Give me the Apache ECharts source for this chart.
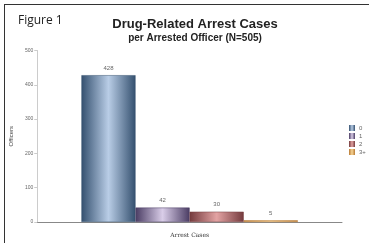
<!DOCTYPE html>
<html>
<head>
<meta charset="utf-8">
<script src="https://cdn.jsdelivr.net/npm/echarts@6/dist/echarts.min.js"></script>
<style>
  html, body { margin: 0; padding: 0; background: #fff; }
  #frame { position: absolute; left: 4px; top: 4px; width: 380px; height: 260px; border-left: 1.5px solid #333; border-top: 1.5px solid #333; }
  #chart { position: absolute; left: 0; top: 0; width: 369px; height: 243px; }
</style>
</head>
<body>
<div id="frame"></div>
<div id="chart"></div>
<script>
// 数据
const categories = ['Arrest Cases'];
const seriesNames = ['0', '1', '2', '3+'];
const officerCounts = [428, 42, 30, 5];
const yTicks = [0, 100, 200, 300, 400, 500];

// 每个系列的渐变色 [边缘, 中间]
const barColors = [
    ['#34506f', '#b9cde6'],
    ['#4a3c63', '#d9cde8'],
    ['#743a3d', '#e3a3a3'],
    ['#b87a34', '#f7d595'],
];

const grad = (c) => new echarts.graphic.LinearGradient(0, 0, 1, 0, [
    {offset: 0, color: c[0]},
    {offset: 0.5, color: c[1]},
    {offset: 1, color: c[0]},
]);

let chart = echarts.init(document.getElementById('chart'));
let option = {
    animation: false,
    title: [
        {text: 'Figure 1', left: 13, top: 10, textStyle: {fontFamily: 'Open Sans', fontSize: 12, fontWeight: 'normal', color: '#222'}},
        {text: 'Drug-Related Arrest Cases', left: 190, top: 13, textAlign: 'center',
         textStyle: {fontFamily: 'Liberation Sans', fontSize: 13, fontWeight: 'bold', color: '#222'}},
        {text: 'per Arrested Officer (N=505)', left: 190, top: 28, textAlign: 'center',
         textStyle: {fontFamily: 'Liberation Sans', fontSize: 10, fontWeight: 'bold', color: '#222'}},
    ],
    legend: {
        orient: 'vertical',
        left: 344, top: 120,
        icon: 'rect',
        itemWidth: 6, itemHeight: 6, itemGap: 2,
        data: seriesNames,
        itemStyle: {borderWidth: 0},
        textStyle: {fontSize: 6, color: '#666', padding: [0, 0, 0, -1]},
    },
    grid: {left: 33, right: 27, top: 50.5, bottom: 15, containLabel: false},
    xAxis: {
        type: 'category',
        data: categories,
        name: 'Arrest Cases', nameLocation: 'middle', nameGap: 10,
        nameTextStyle: {fontFamily: 'DejaVu Serif', fontSize: 6, color: '#333'},
        axisLine: {lineStyle: {color: '#888', width: 1}},
        axisTick: {show: false},
        axisLabel: {show: false},
    },
    yAxis: {
        type: 'value', min: 0, max: 500, interval: 100,
        name: 'Officers', nameLocation: 'middle', nameGap: 18, nameRotate: 90,
        nameTextStyle: {fontSize: 6, color: '#444'},
        axisLine: {show: true, lineStyle: {color: '#ccc'}},
        axisTick: {show: true, length: 3, lineStyle: {color: '#ccc'}},
        axisLabel: {fontSize: 5, color: '#666', margin: 4},
        splitLine: {show: false},
    },
    series: seriesNames.map((n, i) => ({
        name: n,
        type: 'bar',
        data: [officerCounts[i]],
        barGap: '0%',
        barCategoryGap: '29%',
        itemStyle: {color: grad(barColors[i]), borderColor: barColors[i][0], borderWidth: 0.5},
        label: {show: true, position: 'top', fontSize: 6, color: '#666', distance: 4},
    })),
};
chart.setOption(option);
</script>
</body>
</html>
